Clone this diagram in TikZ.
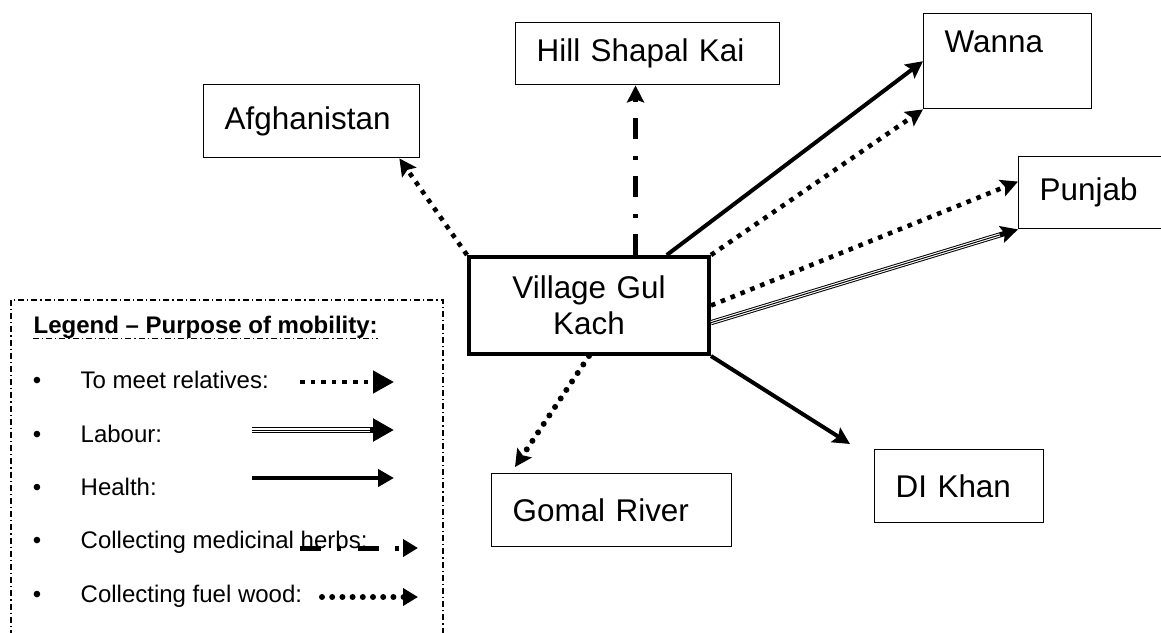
\documentclass[tikz,border=0pt]{standalone}
\usepackage{fontspec}
\setmainfont{Liberation Sans}
\usetikzlibrary{positioning, arrows.meta, calc}
\tikzset{every picture/.style={line width=0.7pt}}

\begin{document}
\begin{tikzpicture}
    [x=0.5pt, y=-0.5pt,
    place/.style = {rectangle, draw, anchor=north west, align=left,
            inner xsep=10.5pt, inner ysep=0pt, font=\fontsize{15.7}{18}\selectfont},
    item/.style = {anchor=base west, inner sep=0pt, font=\fontsize{12}{14}\selectfont},
    relatives/.style = {line width=2.3pt, dash pattern=on 2.3pt off 3pt},
    labour/.style = {line width=2.6pt,
            postaction={draw, white, line width=1.6pt, -, shorten >=#1},
            postaction={draw, black, line width=0.5pt, -, shorten >=#1}},
    labour/.default = 9.5pt,
    health/.style = {line width=2pt},
    herbs/.style = {line width=2.5pt, dash pattern=on 10.5pt off 8pt on 2.2pt off 8.3pt},
    fuel/.style = {line width=3pt, line cap=round, dash pattern=on 0pt off 5.1pt},
    maintip/.style = {-{Stealth[length=8.5pt, width=8.5pt, inset=1.5pt]}},
    bigtip/.style = {-{Triangle[length=10.5pt, width=11pt]}},
    midtip/.style = {-{Triangle[length=8pt, width=8.5pt]}},
    smalltip/.style = {-{Triangle[length=7.5pt, width=8.5pt]}},
    legendbox/.style = {line width=0.6pt, dash pattern=on 3pt off 1.5pt on 0.6pt off 1.5pt},
    underline/.style = {line width=0.5pt, dash pattern=on 3pt off 1.5pt on 0.6pt off 1.5pt},
    ]

    \useasboundingbox (0,0) rectangle (1161,632);
    \fill[white] (0,0) rectangle (1161,632);
    \clip (0,0) rectangle (1161,632);

    % places
    \node[place, text width=87pt, minimum height=36.5pt] (afghanistan) at (203,84) {Afghanistan};
    \node[place, text width=111pt, minimum height=31pt] (hill-shapal) at (515,22) {Hill Shapal Kai};
    \node[place, text width=63pt, minimum height=47.5pt] (wanna) at (923,13) {Wanna\\[-4pt]\strut};
    \node[place, text width=57.5pt, minimum height=36pt] (punjab) at (1018,156) {Punjab};
    \node[place, text width=99pt, minimum height=48.5pt, align=center, line width=2pt] (gul-kach) at (467,255) {Village Gul\\Kach};
    \node[place, text width=99pt, minimum height=36.5pt] (gomal-river) at (491,473) {Gomal River};
    \node[place, text width=63.5pt, minimum height=36.5pt] (di-khan) at (874,449) {DI Khan};

    \draw[relatives, maintip] (gul-kach.north west) to (afghanistan.-23);
    \draw[herbs, maintip] (gul-kach.north -| hill-shapal.249) to (hill-shapal.249);
    \draw[health, maintip] (gul-kach.33.6) to (wanna.west);
    \draw[relatives, maintip] (gul-kach.north east) to (wanna.south west);
    \draw[relatives, maintip] (gul-kach.east) to (punjab.172);
    \draw[labour, maintip] (gul-kach.-8.8) to (punjab.south west);
    \draw[health, maintip] (gul-kach.south east) to ($(di-khan.north west)+(-24,-5)$);
    \draw[fuel, maintip] (gul-kach.south) to ($(gomal-river.north west)+(24,-6)$);

    % legend
    \draw[legendbox] (11,300) rectangle (443,660);
    \node[item, font=\bfseries\fontsize{12}{14}\selectfont] (legend-title) at (33,333) {Legend – Purpose of mobility:};
    \draw[underline] (legend-title.south west) to (legend-title.south east);

    \node[item, anchor=base] (bullet-1) at (37,388) {•};
    \node[item, anchor=base] (bullet-2) at (37,442) {•};
    \node[item, anchor=base] (bullet-3) at (37,495) {•};
    \node[item, anchor=base] (bullet-4) at (37,548) {•};
    \node[item, anchor=base] (bullet-5) at (37,602) {•};

    \node[item] (item-relatives) at (80,388) {To meet relatives:};
    \node[item] (item-labour) at (80,442) {Labour:};
    \node[item] (item-health) at (80,495) {Health:};
    \node[item] (item-herbs) at (80,548) {Collecting medicinal herbs:};
    \node[item] (item-fuel) at (80,602) {Collecting fuel wood:};

    \draw[relatives, bigtip] (300,382) to (394,382);
    \draw[labour=12pt, bigtip] (252,430) to (394,430);
    \draw[health, midtip] (252,478) to (394,478);
    \draw[herbs, smalltip] (300,548) to (418,548);
    \draw[fuel, smalltip] (322,597) to (418,597);
\end{tikzpicture}
\end{document}
